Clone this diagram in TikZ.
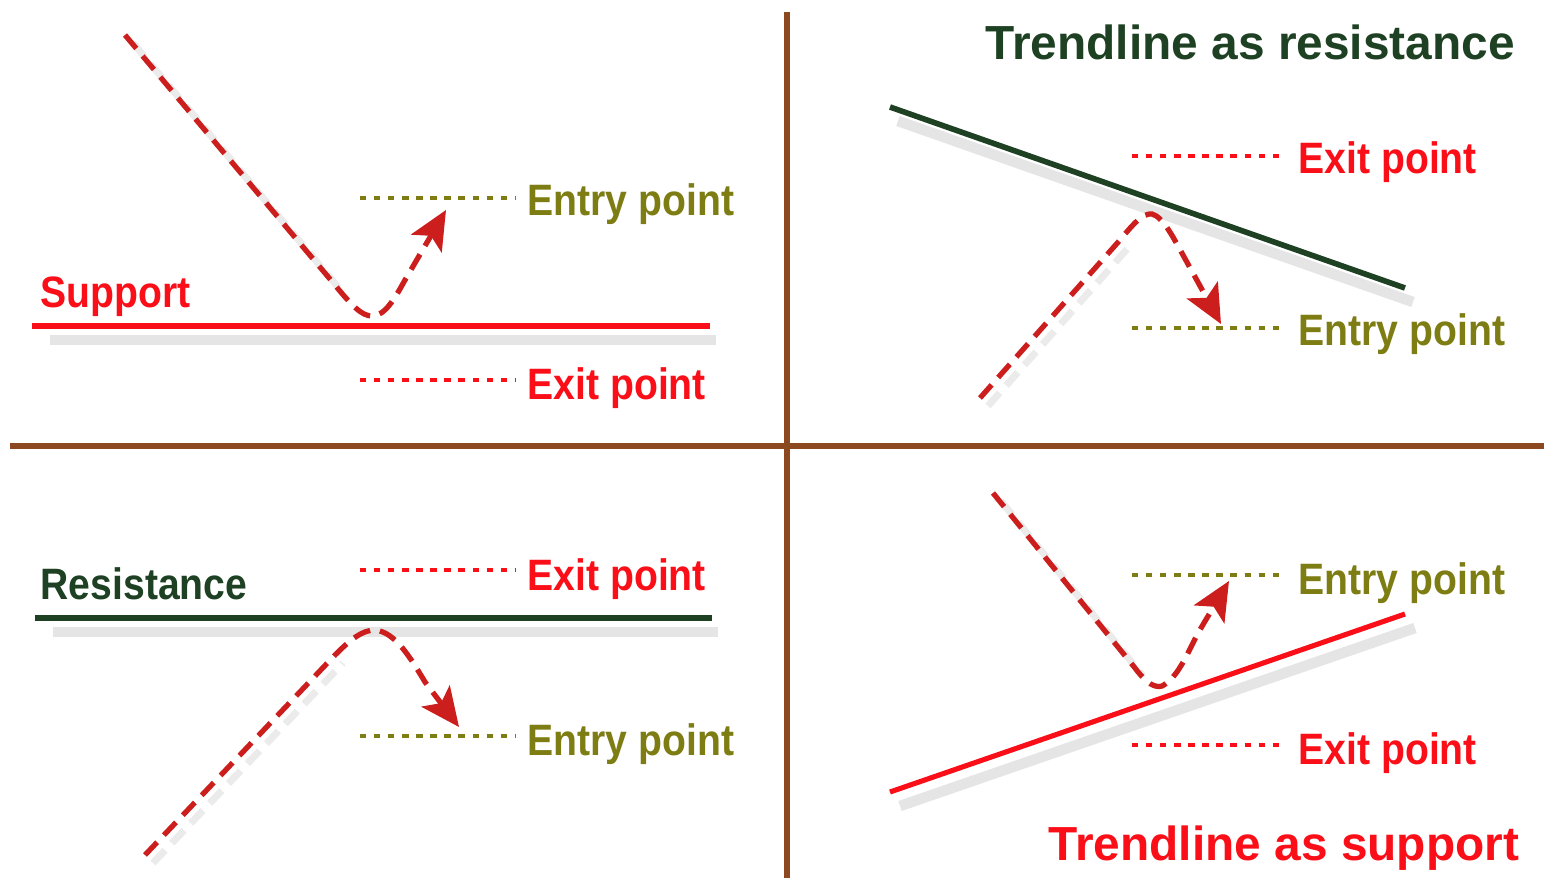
\documentclass[tikz,border=0pt]{standalone}
\usepackage{fontspec}
\setmainfont{Liberation Sans}
\usetikzlibrary{arrows.meta,calc}
\definecolor{divbrown}{RGB}{140,72,30}
\definecolor{brightred}{RGB}{250,15,25}
\definecolor{darkred}{RGB}{205,30,30}
\definecolor{olivetxt}{RGB}{125,125,20}
\definecolor{dkgreen}{RGB}{30,65,35}
\tikzset{
  divider/.style={draw=divbrown, line width=1.45pt},
  levelred/.style={draw=brightred, line width=1.45pt},
  levelgreen/.style={draw=dkgreen, line width=1.6pt},
  lineshadow/.style={draw=black, line width=3pt, opacity=0.10},
  pricepath/.style={draw=darkred, line width=1.5pt, dash pattern=on 5pt off 2.8pt,
     -{Stealth[length=11pt,width=10pt,inset=2.5pt]}},
  pathshadow/.style={draw=black, line width=2pt, opacity=0.08, dash pattern=on 5pt off 2.8pt},
  dotred/.style={draw=brightred, line width=1.3pt, dash pattern=on 1.8pt off 2.2pt},
  dotolive/.style={draw=olivetxt, line width=1.3pt, dash pattern=on 1.8pt off 2.2pt},
  lbl/.style={font=\fontsize{12.5pt}{15pt}\selectfont\bfseries, inner sep=0pt,
     anchor=base west, xscale=0.89, transform shape},
  ttl/.style={font=\fontsize{13.6pt}{16pt}\selectfont\bfseries, inner sep=0pt,
     anchor=base west, transform shape},
}
\begin{document}
\begin{tikzpicture}[x=0.01cm,y=-0.01cm]
\useasboundingbox[fill=white] (0,0) rectangle (1544,878);

% dividers
\coordinate (vtop) at (787,12);
\coordinate (vbot) at (787,878);
\coordinate (hleft) at (10,446);
\coordinate (hright) at (1544,446);
\draw[divider] (vtop) -- (vbot);
\draw[divider] (hleft) -- (hright);

% ---------- top-left: support ----------
\coordinate (s1) at (32,326);
\coordinate (s2) at (710,326);
\draw[lineshadow] ($(s1)+(18,14)$) -- ($(s2)+(6,14)$);
\draw[levelred] (s1) -- (s2);
\coordinate (tlA) at (125,35);
\coordinate (tlB) at (335,285);
\coordinate (tlC) at (372,316);
\coordinate (tlD) at (405,280);
\coordinate (tlE) at (446,210);
\draw[pathshadow] ($(tlA)+(8,8)$) -- ($(tlB)+(8,8)$);
\draw[pricepath] (tlA) -- (tlB) .. controls (352,306) and (362,316) .. (tlC)
   .. controls (385,316) and (395,298) .. (tlD) -- (tlE);
\coordinate (tlen1) at (360,198); \coordinate (tlen2) at (515,198);
\draw[dotolive] (tlen1) -- (tlen2);
\coordinate (tlex1) at (360,380); \coordinate (tlex2) at (515,380);
\draw[dotred] (tlex1) -- (tlex2);
\node[lbl, text=brightred] (supp) at (40,307) {Support};
\node[lbl, text=olivetxt] (tlentry) at (527,215) {Entry point};
\node[lbl, text=brightred] (tlexit) at (527,399) {Exit point};

% ---------- top-right: trendline as resistance ----------
\node[ttl, text=dkgreen] (trtitle) at (985,59) {Trendline as resistance};
\coordinate (g1) at (890,107);
\coordinate (g2) at (1405,288);
\draw[lineshadow] ($(g1)+(8,14)$) -- ($(g2)+(8,14)$);
\draw[levelgreen] (g1) -- (g2);
\coordinate (trA) at (980,398);
\coordinate (trB) at (1120,240);
\coordinate (trC) at (1152,214);
\coordinate (trD) at (1183,255);
\coordinate (trE) at (1221,324);
\draw[pathshadow] ($(trA)+(8,8)$) -- ($(trB)+(8,8)$);
\draw[pricepath] (trA) -- (trB) .. controls (1134,223) and (1143,213) .. (trC)
   .. controls (1163,217) and (1173,237) .. (trD) -- (trE);
\coordinate (trex1) at (1132,156); \coordinate (trex2) at (1285,156);
\draw[dotred] (trex1) -- (trex2);
\coordinate (tren1) at (1132,328); \coordinate (tren2) at (1285,328);
\draw[dotolive] (tren1) -- (tren2);
\node[lbl, text=brightred] (trexit) at (1298,173) {Exit point};
\node[lbl, text=olivetxt] (trentry) at (1298,345) {Entry point};

% ---------- bottom-left: resistance ----------
\coordinate (r1) at (35,618);
\coordinate (r2) at (712,618);
\draw[lineshadow] ($(r1)+(18,14)$) -- ($(r2)+(6,14)$);
\draw[levelgreen] (r1) -- (r2);
\coordinate (blA) at (145,855);
\coordinate (blB) at (335,655);
\coordinate (blC) at (375,630);
\coordinate (blD) at (425,682);
\coordinate (blE) at (459,727);
\draw[pathshadow] ($(blA)+(8,8)$) -- ($(blB)+(8,8)$);
\draw[pricepath] (blA) -- (blB) .. controls (350,640) and (362,630) .. (blC)
   .. controls (395,632) and (410,657) .. (blD) -- (blE);
\coordinate (blex1) at (360,570); \coordinate (blex2) at (515,570);
\draw[dotred] (blex1) -- (blex2);
\coordinate (blen1) at (360,736); \coordinate (blen2) at (515,736);
\draw[dotolive] (blen1) -- (blen2);
\node[lbl, text=dkgreen] (resist) at (40,599) {Resistance};
\node[lbl, text=brightred] (blexit) at (527,590) {Exit point};
\node[lbl, text=olivetxt] (blentry) at (527,755) {Entry point};

% ---------- bottom-right: trendline as support ----------
\coordinate (t1) at (890,792);
\coordinate (t2) at (1405,614);
\draw[lineshadow] ($(t1)+(10,14)$) -- ($(t2)+(10,14)$);
\draw[levelred] (t1) -- (t2);
\coordinate (brA) at (993,493);
\coordinate (brB) at (1135,668);
\coordinate (brC) at (1162,686);
\coordinate (brD) at (1198,633);
\coordinate (brE) at (1229,581);
\draw[pathshadow] ($(brA)+(8,8)$) -- ($(brB)+(8,8)$);
\draw[pricepath] (brA) -- (brB) .. controls (1147,684) and (1155,688) .. (brC)
   .. controls (1178,678) and (1188,652) .. (brD) -- (brE);
\coordinate (bren1) at (1132,575); \coordinate (bren2) at (1285,575);
\draw[dotolive] (bren1) -- (bren2);
\coordinate (brex1) at (1132,745); \coordinate (brex2) at (1285,745);
\draw[dotred] (brex1) -- (brex2);
\node[lbl, text=olivetxt] (brentry) at (1298,594) {Entry point};
\node[lbl, text=brightred] (brexit) at (1298,764) {Exit point};
\node[ttl, text=brightred] (brtitle) at (1048,860) {Trendline as support};
\end{tikzpicture}
\end{document}
